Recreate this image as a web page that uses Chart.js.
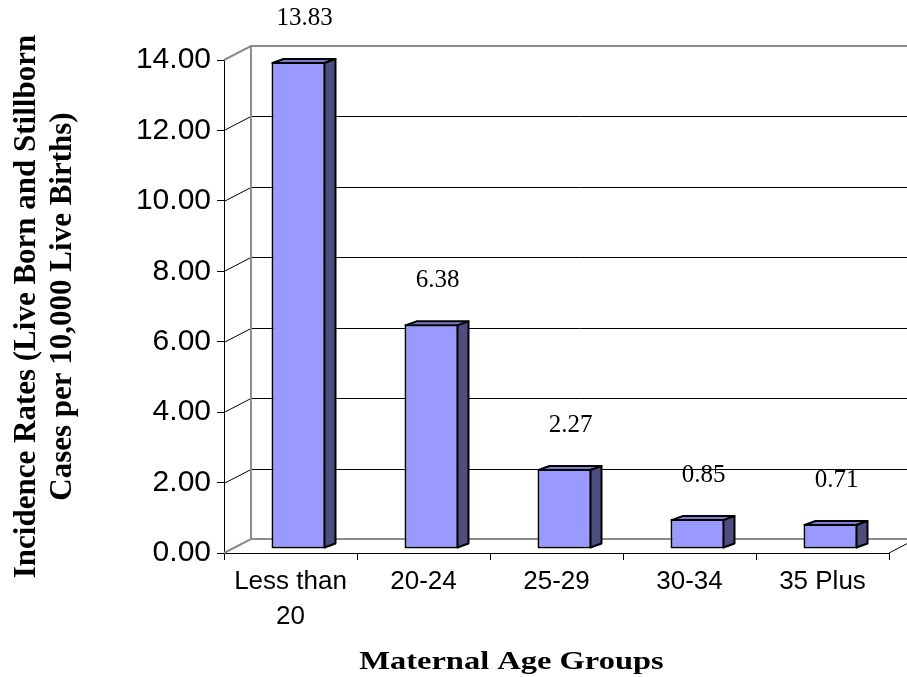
<!DOCTYPE html>
<html>
<head>
<meta charset="utf-8">
<title>Incidence Rates by Maternal Age Group</title>
<script src="https://cdn.jsdelivr.net/npm/chart.js@4.4.1/dist/chart.umd.min.js"></script>
<style>
  html, body { margin: 0; padding: 0; background: #ffffff; overflow: hidden; }
  canvas { display: block; }
</style>
</head>
<body>
<canvas id="chart" width="907" height="677"></canvas>
<script>
// ---- data ----
const ageGroups = [['Less than', '20'], '20-24', '25-29', '30-34', '35 Plus'];
const incidenceRates = [13.83, 6.38, 2.27, 0.85, 0.71];
const yAxisMin = 0;
const yAxisMax = 14;
const yAxisStep = 2;
const yAxisTitle = ['Incidence Rates (Live Born and Stillborn', 'Cases per 10,000 Live Births)'];
const xAxisTitle = 'Maternal Age Groups';

// ---- 3D look (pixel offsets and colours) ----
const WALL = { dx: 27, dy: -14 };        // depth of the back wall
const BAR_PLANE = { dx: 8, dy: -4 };     // bars sit a little behind the front axis
const BAR_DEPTH = { dx: 11, dy: -4 };    // thickness of each bar
const COLORS = {
  front: '#9999ff',
  top: '#7b7bcc',
  side: '#4d4d80',
  outline: '#000000',
  wall: '#8c8c8c',
  grid: '#000000'
};

const wall3d = {
  id: 'wall3d',
  beforeDatasetsDraw(chart) {
    const { ctx, chartArea: a, scales: { y } } = chart;
    const top = y.getPixelForValue(y.max);
    const base = y.getPixelForValue(y.min);
    ctx.save();
    // gridlines running across the side wall and the back wall
    ctx.lineWidth = 1;
    ctx.strokeStyle = COLORS.grid;
    y.ticks.forEach(t => {
      if (t.value === y.min || t.value === y.max) return;
      const py = Math.round(y.getPixelForValue(t.value)) + 0.5;
      ctx.beginPath();
      ctx.moveTo(a.left, py);
      ctx.lineTo(a.left + WALL.dx, py + WALL.dy);
      ctx.lineTo(a.right + WALL.dx, py + WALL.dy);
      ctx.stroke();
    });
    // wall and floor edges
    ctx.strokeStyle = COLORS.wall;
    ctx.lineWidth = 2;
    ctx.beginPath();
    ctx.moveTo(a.left, top);
    ctx.lineTo(a.left + WALL.dx, top + WALL.dy);
    ctx.lineTo(a.right + WALL.dx, top + WALL.dy);
    ctx.moveTo(a.left, base);
    ctx.lineTo(a.left + WALL.dx, base + WALL.dy);
    ctx.lineTo(a.right + WALL.dx, base + WALL.dy);
    ctx.moveTo(a.left + WALL.dx, top + WALL.dy);
    ctx.lineTo(a.left + WALL.dx, base + WALL.dy);
    ctx.stroke();
    ctx.strokeStyle = COLORS.outline;
    ctx.lineWidth = 1;
    ctx.beginPath();
    ctx.moveTo(a.right, base);
    ctx.lineTo(a.right + WALL.dx, base + WALL.dy);
    ctx.stroke();
    ctx.restore();

    // the bar fronts are drawn by Chart.js in a slightly shifted plane
    ctx.save();
    ctx.translate(BAR_PLANE.dx, BAR_PLANE.dy);
  },
  afterDatasetsDraw(chart) {
    const { ctx } = chart;
    const meta = chart.getDatasetMeta(0);
    ctx.lineWidth = 2;
    ctx.lineJoin = 'round';
    ctx.strokeStyle = COLORS.outline;
    meta.data.forEach(bar => {
      const { x, y, base, width } = bar.getProps(['x', 'y', 'base', 'width'], true);
      const x0 = x - width / 2 + 1;
      const x1 = x + width / 2 - 1;
      const yt = y + 1;
      const yb = base - 1;
      // top face
      ctx.beginPath();
      ctx.moveTo(x0, yt);
      ctx.lineTo(x0 + BAR_DEPTH.dx, yt + BAR_DEPTH.dy);
      ctx.lineTo(x1 + BAR_DEPTH.dx, yt + BAR_DEPTH.dy);
      ctx.lineTo(x1, yt);
      ctx.closePath();
      ctx.fillStyle = COLORS.top;
      ctx.fill();
      ctx.stroke();
      // side face
      ctx.beginPath();
      ctx.moveTo(x1, yt);
      ctx.lineTo(x1 + BAR_DEPTH.dx, yt + BAR_DEPTH.dy);
      ctx.lineTo(x1 + BAR_DEPTH.dx, yb + BAR_DEPTH.dy);
      ctx.lineTo(x1, yb);
      ctx.closePath();
      ctx.fillStyle = COLORS.side;
      ctx.fill();
      ctx.stroke();
    });
    ctx.restore();

    // value labels above each bar
    ctx.save();
    ctx.font = '25px "Liberation Serif", "Times New Roman", serif';
    ctx.fillStyle = '#000000';
    ctx.textAlign = 'center';
    ctx.textBaseline = 'middle';
    meta.data.forEach((bar, i) => {
      const { x, y } = bar.getProps(['x', 'y'], true);
      ctx.fillText(incidenceRates[i].toFixed(2), x + BAR_PLANE.dx + 6, y + BAR_PLANE.dy - 44);
    });
    ctx.restore();
  },
  afterDraw(chart) {
    const { ctx, chartArea: a } = chart;
    ctx.save();
    ctx.font = 'bold 26px "Liberation Serif", "Times New Roman", serif';
    ctx.fillStyle = '#000000';
    ctx.textAlign = 'center';
    ctx.textBaseline = 'alphabetic';
    ctx.translate((a.left + a.right) / 2 - 45, chart.height - 8);
    ctx.scale(1.25, 1);
    ctx.fillText(xAxisTitle, 0, 0);
    ctx.restore();
  }
};

new Chart(document.getElementById('chart'), {
  type: 'bar',
  data: {
    labels: ageGroups,
    datasets: [{
      data: incidenceRates,
      backgroundColor: COLORS.front,
      borderColor: COLORS.outline,
      borderWidth: 2,
      borderSkipped: false,
      categoryPercentage: 1,
      barPercentage: 0.406,
      clip: false
    }]
  },
  options: {
    responsive: false,
    animation: false,
    devicePixelRatio: 1,
    layout: { padding: { left: 0, top: 60, right: 18, bottom: 0 } },
    plugins: {
      legend: { display: false },
      tooltip: { enabled: false },
      title: { display: false }
    },
    scales: {
      x: {
        afterFit(scale) { scale.height = 124; },
        grid: {
          display: true,
          drawOnChartArea: false,
          drawTicks: true,
          tickLength: 7,
          tickColor: '#000000',
          offset: true
        },
        border: { display: true, color: '#000000', width: 1 },
        ticks: {
          color: '#000000',
          padding: 4,
          maxRotation: 0,
          autoSkip: false,
          font: { family: '"Liberation Sans", Arial, sans-serif', size: 26, lineHeight: 1.35 }
        }
      },
      y: {
        min: yAxisMin,
        max: yAxisMax,
        afterFit(scale) { scale.width = 224; },
        grid: {
          display: true,
          drawOnChartArea: false,
          drawTicks: true,
          tickLength: 7,
          tickColor: '#000000'
        },
        border: { display: true, color: '#000000', width: 1 },
        ticks: {
          stepSize: yAxisStep,
          color: '#000000',
          padding: 6,
          font: { family: '"Liberation Sans", Arial, sans-serif', size: 30 },
          callback: v => Number(v).toFixed(2)
        },
        title: {
          display: true,
          text: yAxisTitle,
          color: '#000000',
          padding: { top: 9, bottom: 0 },
          font: { family: '"Liberation Serif", "Times New Roman", serif', size: 31, weight: 'bold', lineHeight: 1.16 }
        }
      }
    }
  },
  plugins: [wall3d]
});
</script>
</body>
</html>
